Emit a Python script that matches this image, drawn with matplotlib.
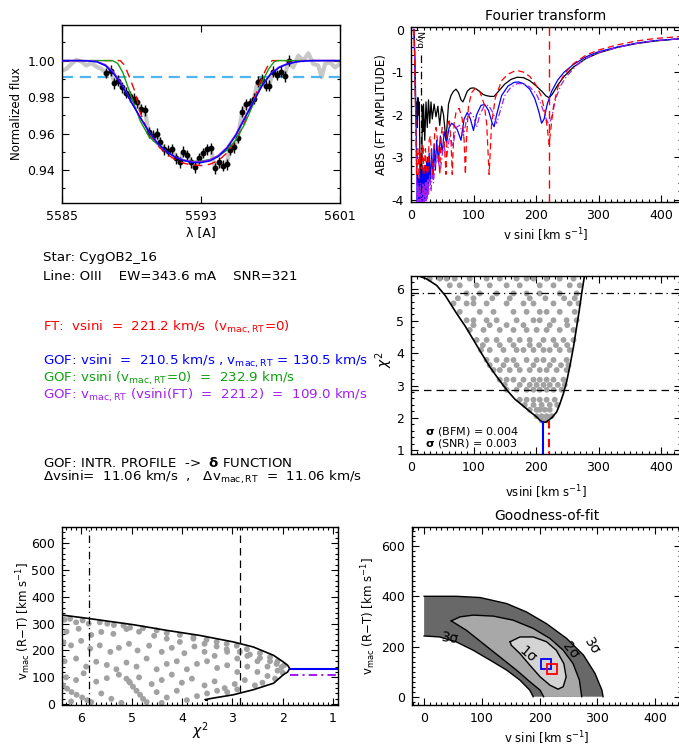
import numpy as np
import matplotlib
matplotlib.use('Agg')
import matplotlib.pyplot as plt
from matplotlib.ticker import MultipleLocator, FixedLocator, FormatStrFormatter

plt.rcParams['font.family'] = ['DejaVu Sans']
plt.rcParams['mathtext.fontset'] = 'dejavusans'
plt.rcParams['axes.unicode_minus'] = False
plt.rcParams['axes.linewidth'] = 1.0

# --- colours ---
RED = '#ff0000'
BLUE = '#0000ff'
GREEN = '#10a010'
PURPLE = '#a020f0'
GREY_DOT = '#a2a2a2'

# --- top-left: line profile ---
pt_wave = [5587.55, 5587.80, 5588.02, 5588.25, 5588.46, 5588.67, 5588.90, 5589.13, 5589.34, 5589.55,
           5589.76, 5589.99, 5590.22, 5590.44, 5590.63, 5590.86, 5591.11, 5591.34, 5591.55, 5591.78,
           5591.97, 5592.22, 5592.45, 5592.68, 5592.91, 5593.13, 5593.36, 5593.57, 5593.80, 5594.03,
           5594.24, 5594.47, 5594.66, 5594.89, 5595.12, 5595.37, 5595.58, 5595.81, 5596.04, 5596.26,
           5596.49, 5596.72, 5596.93, 5597.14, 5597.35, 5597.60, 5597.81, 5598.04]
pt_flux = [0.9932, 0.9945, 0.9877, 0.9890, 0.9853, 0.9823, 0.9804, 0.9790, 0.9771, 0.9735,
           0.9729, 0.9607, 0.9589, 0.9600, 0.9552, 0.9515, 0.9506, 0.9515, 0.9464, 0.9442,
           0.9501, 0.9482, 0.9442, 0.9415, 0.9464, 0.9494, 0.9515, 0.9519, 0.9411, 0.9442,
           0.9424, 0.9433, 0.9512, 0.9525, 0.9576, 0.9720, 0.9762, 0.9766, 0.9790, 0.9885,
           0.9896, 0.9863, 0.9863, 0.9940, 0.9921, 0.9940, 0.9914, 0.9998]
flux_err = 0.003

cont_left_wave = [5585.0, 5585.25, 5585.54, 5585.83, 5586.11, 5586.40, 5586.69, 5586.98, 5587.27]
cont_left_flux = [0.9945, 0.9954, 0.9982, 1.0004, 0.9995, 0.9973, 0.9987, 0.9967, 0.9954]
cont_right_wave = [5598.31, 5598.60, 5598.89, 5599.18, 5599.46, 5599.75, 5599.94, 5600.14, 5600.42, 5600.71, 5601.0]
cont_right_flux = [0.9963, 1.0027, 1.0000, 1.0040, 0.9982, 0.9973, 0.9909, 0.9982, 0.9991, 0.9963, 0.9982]

snr_level = 0.991

blue_wave = [5585.0, 5586.0, 5586.5, 5587.0, 5587.5, 5588.0, 5588.5, 5589.0, 5589.5, 5590.0, 5590.5,
             5591.0, 5591.5, 5592.0, 5592.5, 5593.0, 5593.5, 5594.0, 5594.5, 5595.0, 5595.5, 5596.0,
             5596.5, 5597.0, 5597.5, 5598.0, 5598.5, 5599.0, 5599.5, 5601.0]
blue_flux = [1.0, 1.0, 0.9998, 0.9993, 0.9972, 0.9925, 0.9855, 0.9770, 0.9690, 0.9612, 0.9548,
             0.9503, 0.9472, 0.9452, 0.9442, 0.9441, 0.9450, 0.9475, 0.9520, 0.9590, 0.9680, 0.9770,
             0.9860, 0.9925, 0.9962, 0.9982, 0.9993, 0.9998, 1.0, 1.0]
purple_flux = [1.0, 1.0, 0.9999, 0.9995, 0.9977, 0.9932, 0.9860, 0.9772, 0.9688, 0.9608, 0.9545,
               0.9502, 0.9473, 0.9455, 0.9446, 0.9446, 0.9455, 0.9480, 0.9525, 0.9595, 0.9685, 0.9775,
               0.9862, 0.9927, 0.9965, 0.9984, 0.9994, 0.9999, 1.0, 1.0]
green_wave = [5585.0, 5587.9, 5588.2, 5588.5, 5589.0, 5589.5, 5590.0, 5590.5, 5591.0, 5591.5, 5592.0,
              5592.5, 5593.0, 5593.5, 5594.0, 5594.5, 5595.0, 5595.5, 5596.0, 5596.5, 5596.9, 5597.2,
              5597.4, 5601.0]
green_flux = [1.0, 1.0, 0.9985, 0.9935, 0.9800, 0.9670, 0.9585, 0.9540, 0.9503, 0.9472, 0.9455,
              0.9448, 0.9449, 0.9458, 0.9476, 0.9510, 0.9565, 0.9650, 0.9760, 0.9880, 0.9955, 0.9993,
              1.0, 1.0]
red_wave = [5585.0, 5588.35, 5588.6, 5588.9, 5589.2, 5589.5, 5590.0, 5590.5, 5591.0, 5591.5, 5592.0,
            5592.5, 5593.0, 5593.5, 5594.0, 5594.5, 5595.0, 5595.5, 5596.0, 5596.4, 5596.7, 5596.95,
            5597.1, 5601.0]
red_flux = [1.0, 1.0, 0.9975, 0.9905, 0.9830, 0.9715, 0.9600, 0.9535, 0.9490, 0.9458, 0.9438,
            0.9428, 0.9425, 0.9432, 0.9452, 0.9495, 0.9565, 0.9660, 0.9775, 0.9880, 0.9945, 0.9990,
            1.0, 1.0]

# --- top-right: Fourier transforms (log10 amplitude) ---
ft_black_v = [5, 6, 7, 8, 9, 10, 11, 12, 13, 14, 15, 16, 17, 18, 19, 20, 22, 24, 26, 28, 30, 32, 34, 37,
              40, 43, 46, 49, 52, 56, 60, 64, 68, 72, 76, 80, 83, 86, 90, 95, 100, 105, 110, 115, 120,
              127, 133, 140, 150, 160, 170, 180, 190, 200, 210, 216, 221, 226, 235, 245, 260, 280, 300,
              330, 360, 390, 435]
ft_black = [0, -0.8, -1.6, -2.2, -1.7, -2.3, -1.6, -2.0, -1.7, -2.6, -4.1, -3.0, -4.1, -1.8, -2.4, -1.75,
            -2.6, -1.7, -2.3, -1.65, -2.2, -1.7, -2.1, -1.75, -2.05, -1.8, -2.25, -1.8, -2.0, -2.6,
            -1.75, -1.55, -1.45, -1.40, -1.48, -1.65, -1.70, -1.6, -1.45, -1.38, -1.37, -1.40, -1.46,
            -1.52, -1.55, -1.57, -1.57, -1.45, -1.28, -1.17, -1.12, -1.13, -1.20, -1.32, -1.46, -1.56,
            -1.60, -1.52, -1.30, -1.10, -0.88, -0.68, -0.55, -0.42, -0.33, -0.27, -0.21]
ft_red_v = [5, 7, 9, 11, 13, 15, 17, 19, 21, 23, 25, 27, 29, 31, 33, 35, 38, 40, 43, 46, 48, 50, 53, 56,
            58, 61, 64, 66, 69, 72, 77, 82, 85, 87, 89, 92, 97, 103, 110, 117, 121, 125, 129, 135, 145,
            155, 165, 172, 180, 190, 200, 208, 214, 218, 221, 224, 228, 235, 245, 260, 280, 300, 330,
            360, 390, 435]
ft_red = [0, -1.6, -3.4, -2.8, -3.5, -2.9, -3.4, -2.7, -3.4, -2.8, -3.3, -3.4, -2.6, -2.5, -3.0, -3.4,
          -2.4, -2.3, -2.7, -3.4, -2.5, -2.3, -2.6, -3.4, -2.3, -2.1, -2.6, -3.4, -2.2, -1.95, -1.85,
          -2.1, -2.6, -3.4, -2.5, -1.8, -1.48, -1.38, -1.45, -1.75, -2.2, -3.4, -2.2, -1.6, -1.2,
          -1.05, -0.98, -0.97, -1.0, -1.1, -1.3, -1.55, -1.9, -2.3, -2.7, -2.3, -1.8, -1.35, -1.05,
          -0.80, -0.60, -0.48, -0.36, -0.27, -0.21, -0.16]
ft_blue_v = [5, 7, 9, 10, 11, 12, 13, 14, 15, 16, 17, 18, 19, 20, 21, 22, 23, 24, 25, 26, 27, 28, 29, 31,
             33, 35, 37, 39, 41, 44, 47, 50, 53, 57, 61, 65, 69, 74, 80, 85, 90, 95, 100, 105, 112, 118,
             124, 130, 133, 137, 145, 155, 165, 172, 180, 190, 198, 204, 209, 213, 218, 225, 235, 245,
             260, 280, 300, 330, 360, 390, 435]
ft_blue = [0, -1.2, -3.0, -4.1, -3.4, -4.1, -3.5, -4.1, -3.3, -4.1, -3.4, -4.1, -3.2, -4.1, -3.3, -4.0,
           -3.2, -3.9, -3.1, -3.8, -3.0, -3.7, -2.9, -3.6, -2.8, -3.5, -2.7, -3.3, -2.6, -3.1, -2.5,
           -2.9, -2.4, -2.65, -2.3, -2.2, -2.25, -2.35, -2.6, -2.1, -1.95, -2.1, -2.37, -2.0, -1.78,
           -1.76, -1.9, -2.2, -2.28, -2.0, -1.55, -1.33, -1.24, -1.23, -1.27, -1.40, -1.62, -1.9, -2.2,
           -2.1, -1.75, -1.45, -1.18, -1.0, -0.82, -0.64, -0.52, -0.41, -0.32, -0.26, -0.21]
ft_purple_v = [5, 7, 9, 10, 11, 12, 13, 14, 15, 16, 17, 18, 19, 20, 21, 22, 23, 24, 25, 26, 27, 28, 30,
               32, 34, 36, 38, 42, 47, 52, 57, 62, 67, 72, 78, 84, 89, 95, 100, 105, 110, 117, 124, 131,
               137, 142, 150, 160, 170, 180, 190, 200, 208, 215, 221, 226, 232, 240, 250, 265, 280, 300,
               330, 360, 390, 435]
ft_purple = [0, -1.5, -3.6, -4.1, -3.6, -4.1, -3.7, -4.1, -3.6, -4.1, -3.7, -4.1, -3.6, -4.1, -3.7, -4.1,
             -3.6, -4.1, -3.6, -4.0, -3.5, -3.9, -3.4, -3.8, -3.3, -3.6, -3.2, -3.0, -3.3, -2.7, -3.0,
             -2.5, -2.75, -2.3, -2.25, -2.5, -2.1, -1.95, -2.05, -2.3, -2.0, -1.8, -1.78, -1.95, -2.2,
             -1.95, -1.55, -1.35, -1.27, -1.27, -1.35, -1.5, -1.75, -2.05, -2.25, -2.0, -1.6, -1.3,
             -1.08, -0.84, -0.68, -0.54, -0.42, -0.33, -0.26, -0.21]
vsini_ft = 221.2
v_nyquist = 16

# --- chi2 results ---
vsini_gof = 210.5
vmac_gof = 130.5
vmac_fixed = 109.0
chi2_min = 1.86
chi2_lev1 = 2.85
chi2_lev3 = 5.85

chi_curve_v = [14, 25, 41, 55, 73, 87, 100, 113, 126, 140, 153, 166, 180, 191, 201, 206, 211, 216, 220,
               226, 233, 238, 244, 249, 254, 260, 265, 269, 273, 278]
chi_curve = [6.38, 6.30, 6.10, 5.78, 5.23, 4.83, 4.41, 3.99, 3.58, 3.20, 2.87, 2.58, 2.36, 2.18, 2.03,
             1.93, 1.86, 1.87, 1.92, 2.02, 2.18, 2.42, 2.76, 3.12, 3.58, 4.20, 4.81, 5.30, 5.84, 6.45]

dot_v = [30, 46, 57, 70, 94, 121, 142, 169, 185, 196, 217, 238, 260,
         62, 78, 105, 126, 153, 174, 206, 228, 254, 270,
         89, 110, 137, 164, 185, 206, 238, 265,
         75, 100, 130, 158, 190, 215, 245, 262,
         68, 89, 100, 121, 153, 180, 196, 228, 254, 268,
         78, 110, 132, 164, 185, 206, 217, 238, 262,
         89, 100, 121, 137, 169, 196, 206, 228, 249, 265,
         100, 126, 153, 180, 222, 250,
         94, 116, 142, 164, 185, 201, 217, 238, 260,
         105, 121, 137, 158, 174, 190, 212, 228, 244, 260,
         115, 142, 164, 190, 205, 232, 250,
         112, 126, 148, 169, 180, 196, 212, 222, 238, 254,
         121, 137, 153, 164, 185, 201, 212, 228, 249,
         126, 148, 169, 196, 222, 240, 252,
         132, 142, 158, 174, 190, 206, 217, 233, 249,
         142, 153, 164, 180, 196, 206, 217, 228, 244,
         150, 174, 190, 201, 212, 222, 235, 246,
         153, 169, 185, 196, 206, 217, 228, 241,
         174, 185, 196, 206, 217, 230,
         182, 196, 209, 222, 234,
         190, 201, 206, 214, 222,
         201, 209, 217, 225,
         209, 217]
dot_chi = [6.31] * 13 + [6.10] * 10 + [5.85] * 8 + [5.70] * 8 + [5.54] * 10 + [5.28] * 9 + \
          [5.02] * 10 + [4.87] * 6 + [4.72] * 9 + [4.41] * 10 + [4.25] * 7 + [4.10] * 10 + \
          [3.79] * 9 + [3.63] * 7 + [3.48] * 9 + [3.18] * 9 + [3.02] * 8 + [2.87] * 8 + \
          [2.56] * 6 + [2.40] * 5 + [2.25] * 5 + [2.05] * 4 + [1.92] * 2

# --- bottom-left: vmac vs chi2 ---
env_chi = [6.38, 5.88, 4.96, 4.30, 3.64, 2.98, 2.58, 2.18, 1.99, 1.90, 1.86, 1.90, 1.99, 2.18, 2.58,
           2.98, 3.37, 3.54, 3.50]
env_vmac = [332, 320, 296, 275, 256, 232, 213, 182, 158, 145, 133, 120, 109, 78, 54, 35, 23, 17, 14]

bl_chi = [6.33, 6.22, 6.10, 5.97, 5.85, 5.63, 5.48, 5.35, 5.16, 5.03, 4.77, 4.50, 4.30, 4.04, 3.77,
          3.51, 3.31, 3.11, 2.91, 2.71, 2.45, 2.25, 2.10, 1.97,
          6.29, 6.05, 5.80, 5.60, 5.36, 5.10, 4.85, 4.55, 4.30, 4.04, 3.77, 3.55, 3.31, 3.11, 2.85,
          2.65, 2.45, 2.25, 2.12, 2.02,
          6.35, 6.20, 6.00, 5.82, 5.63, 5.42, 5.25, 5.05, 4.88, 4.65, 4.40, 4.20, 3.95, 3.75, 3.55,
          3.35, 3.10, 2.90, 2.70, 2.50, 2.30, 2.10, 2.00,
          6.33, 6.10, 5.90, 5.70, 5.49, 5.30, 5.10, 4.90, 4.70, 4.50, 4.30, 4.10, 3.90, 3.70, 3.50,
          3.30, 3.10, 2.90, 2.70, 2.50, 2.30, 2.15,
          6.30, 6.10, 5.95, 5.70, 5.49, 5.25, 5.05, 4.85, 4.60, 4.40, 4.20, 4.00, 3.80, 3.55, 3.35,
          3.15, 2.95, 2.75, 2.55, 2.40,
          6.36, 6.28, 6.19, 6.09, 5.98, 5.88, 5.80,
          5.10, 5.03, 4.97, 4.90, 4.83, 4.77, 4.70,
          5.60, 5.40, 4.50, 4.30, 4.10, 3.90, 3.70, 3.50, 3.30, 3.10, 2.90, 6.20, 5.20, 4.40]
bl_vmac = [315, 318, 305, 312, 300, 305, 300, 295, 293, 285, 283, 275, 265, 258, 250,
           240, 232, 225, 218, 205, 190, 175, 160, 145,
           270, 281, 258, 269, 262, 280, 270, 255, 244, 232, 244, 225, 215, 205, 195,
           185, 172, 160, 150, 138,
           230, 219, 236, 207, 219, 195, 210, 225, 200, 218, 195, 210, 190, 215, 195,
           180, 195, 170, 180, 160, 140, 125, 118,
           160, 170, 140, 158, 146, 130, 155, 140, 170, 130, 150, 160, 130, 150, 160,
           135, 145, 120, 140, 120, 105, 95,
           100, 90, 115, 84, 97, 110, 85, 100, 75, 90, 110, 80, 95, 70, 85,
           60, 75, 90, 70, 80,
           70, 58, 45, 35, 25, 15, 8,
           95, 80, 65, 50, 35, 20, 8,
           40, 20, 45, 25, 50, 15, 30, 40, 50, 45, 55, 10, 5, 5]

# --- bottom-right: confidence regions ---
c3_outer_v = [0, 56, 97, 143, 177, 212, 247, 276, 296, 308, 310]
c3_outer_m = [400, 400, 395, 371, 338, 291, 232, 166, 93, 26, 0]
c3_inner_v = [189, 183, 166, 143, 114, 85, 56, 27, 0]
c3_inner_m = [0, 26, 66, 106, 146, 185, 218, 238, 242]
c2_outer_v = [47, 62, 85, 120, 154, 189, 218, 241, 258, 269, 273]
c2_outer_m = [302, 318, 325, 321, 305, 272, 232, 185, 132, 66, 0]
c2_inner_v = [207, 201, 183, 160, 131, 102, 73, 47]
c2_inner_m = [0, 26, 60, 106, 159, 212, 265, 302]
c1_v = [149, 166, 189, 212, 229, 242, 246, 241, 232, 218, 201, 183, 166, 151, 149]
c1_m = [219, 238, 238, 219, 185, 132, 79, 40, 30, 46, 79, 126, 172, 205, 219]

# ---------------------------------------------------------------------------
fig = plt.figure(figsize=(6.79, 7.49), dpi=100)
W, H = 679.0, 749.0


def add_axes(x0, x1, y0, y1):
    return fig.add_axes([x0 / W, 1 - y1 / H, (x1 - x0) / W, (y1 - y0) / H])


def idl_style(ax):
    ax.tick_params(which='both', direction='in', top=True, right=True, labelsize=9, width=0.8)
    ax.tick_params(which='major', length=5, pad=5)
    ax.tick_params(which='minor', length=2.5)


DASH = (0, (6, 4))
DASHDOT = (0, (6, 3, 1, 3))

# top-left
ax1 = add_axes(62, 340, 25, 203)
grey_wave = cont_left_wave + pt_wave + cont_right_wave
grey_flux = cont_left_flux + pt_flux + cont_right_flux
ax1.plot(grey_wave, grey_flux, color='#c8c8c8', lw=3, zorder=1)
ax1.axhline(snr_level, color='#4fb5f0', lw=1.6, ls=(0, (5, 3)), zorder=2)
ax1.errorbar(pt_wave, pt_flux, yerr=flux_err, fmt='o', color='k', ms=3.2, elinewidth=1.0,
             capsize=0, zorder=3)
ax1.plot(red_wave, red_flux, color=RED, lw=1.0, ls=DASH, zorder=4)
ax1.plot(green_wave, green_flux, color=GREEN, lw=1.0, zorder=5)
ax1.plot(blue_wave, purple_flux, color=PURPLE, lw=1.2, zorder=6)
ax1.plot(blue_wave, blue_flux, color=BLUE, lw=1.0, zorder=7)
ax1.set_xlim(5585, 5601)
ax1.set_ylim(0.922, 1.0195)
idl_style(ax1)
ax1.xaxis.set_major_locator(FixedLocator([5585, 5593, 5601]))
ax1.yaxis.set_major_locator(MultipleLocator(0.02))
ax1.yaxis.set_minor_locator(MultipleLocator(0.01))
ax1.yaxis.set_major_formatter(FormatStrFormatter('%.2f'))
ax1.set_ylabel('Normalized flux', fontsize=8.5)
ax1.set_xlabel('λ [A]', fontsize=9)
ax1.yaxis.set_label_coords(-0.14, 0.5)
ax1.xaxis.set_label_coords(0.5, -0.13)

# top-right
ax2 = add_axes(411, 681, 27, 202)
ax2.plot(ft_black_v, ft_black, color='k', lw=0.9, zorder=2)
ax2.plot(ft_blue_v, ft_blue, color=BLUE, lw=0.9, zorder=3)
ax2.plot(ft_purple_v, ft_purple, color=PURPLE, lw=0.9, ls=(0, (5, 2, 1, 2)), zorder=4)
ax2.plot(ft_red_v, ft_red, color=RED, lw=0.9, ls=(0, (5, 3)), zorder=5)
ax2.axvline(vsini_ft, color=RED, lw=1.0, ls=(0, (6, 4)), zorder=6)
ax2.plot([v_nyquist, v_nyquist], [-0.6, -4.1], color='k', lw=0.9, ls=DASHDOT, zorder=6)
ax2.text(v_nyquist - 3.5, -0.03, 'Nyq.', rotation=270, fontsize=6.5, ha='center', va='top')
ax2.set_xlim(0, 432)
ax2.set_ylim(-4.05, 0.06)
idl_style(ax2)
ax2.xaxis.set_major_locator(MultipleLocator(100))
ax2.xaxis.set_minor_locator(MultipleLocator(10))
ax2.yaxis.set_major_locator(MultipleLocator(1))
ax2.yaxis.set_minor_locator(MultipleLocator(0.2))
ax2.set_title('Fourier transform', fontsize=10, pad=5)
ax2.set_ylabel('ABS (FT AMPLITUDE)', fontsize=8.5)
ax2.set_xlabel('v sini [km s$^{-1}$]', fontsize=8.5)
ax2.yaxis.set_label_coords(-0.085, 0.5)
ax2.xaxis.set_label_coords(0.5, -0.137)

# middle-right
ax3 = add_axes(411, 681, 276, 454)
ax3.scatter(dot_v, dot_chi, s=18, color=GREY_DOT, edgecolors='none', zorder=2)
ax3.plot(chi_curve_v, chi_curve, color='k', lw=1.2, zorder=3)
ax3.axhline(chi2_lev3, color='k', lw=0.9, ls=DASHDOT, zorder=4)
ax3.axhline(chi2_lev1, color='k', lw=0.9, ls=DASH, zorder=4)
ax3.plot([vsini_gof, vsini_gof], [0.5, chi2_min], color=BLUE, lw=1.5, zorder=5)
ax3.plot([vsini_ft, vsini_ft], [0.5, chi2_min + 0.03], color=RED, lw=1.5, ls=(0, (4, 2, 1, 2)), zorder=5)
ax3.text(22, 1.58, r'$\mathbf{\sigma}$ (BFM) = 0.004', fontsize=8, va='center')
ax3.text(22, 1.21, r'$\mathbf{\sigma}$ (SNR) = 0.003', fontsize=8, va='center')
ax3.set_xlim(0, 432)
ax3.set_ylim(0.88, 6.39)
idl_style(ax3)
ax3.xaxis.set_major_locator(MultipleLocator(100))
ax3.xaxis.set_minor_locator(MultipleLocator(10))
ax3.yaxis.set_major_locator(MultipleLocator(1))
ax3.yaxis.set_minor_locator(MultipleLocator(0.2))
ax3.set_ylabel(r'$\chi^2$', fontsize=10)
ax3.set_xlabel('vsini [km s$^{-1}$]', fontsize=8.5)
ax3.yaxis.set_label_coords(-0.06, 0.53)
ax3.xaxis.set_label_coords(0.5, -0.165)

# bottom-left
ax4 = add_axes(62, 338, 527, 705)
ax4.scatter(bl_chi, bl_vmac, s=18, color=GREY_DOT, edgecolors='none', zorder=2)
ax4.plot(env_chi, env_vmac, color='k', lw=1.2, zorder=3)
ax4.axvline(chi2_lev3, color='k', lw=0.9, ls=DASHDOT, zorder=4)
ax4.axvline(chi2_lev1, color='k', lw=0.9, ls=DASH, zorder=4)
ax4.plot([chi2_min, 0.5], [vmac_gof, vmac_gof], color=BLUE, lw=1.5, zorder=5)
ax4.plot([chi2_min, 0.5], [vmac_fixed, vmac_fixed], color=PURPLE, lw=1.5, ls=(0, (4, 2, 1, 2)), zorder=5)
ax4.set_xlim(6.38, 0.9)
ax4.set_ylim(-3, 660)
idl_style(ax4)
ax4.xaxis.set_major_locator(MultipleLocator(1))
ax4.xaxis.set_minor_locator(MultipleLocator(0.1))
ax4.yaxis.set_major_locator(MultipleLocator(100))
ax4.yaxis.set_minor_locator(MultipleLocator(20))
ax4.set_ylabel(r'v$_{\mathrm{mac}}$ (R$-$T) [km s$^{-1}$]', fontsize=8.5)
ax4.set_xlabel(r'$\chi^2$', fontsize=10)
ax4.yaxis.set_label_coords(-0.105, 0.47)
ax4.xaxis.set_label_coords(0.5, -0.085)

# bottom-right
ax5 = add_axes(412, 681, 527, 705)
ax5.fill(c3_outer_v + c3_inner_v, c3_outer_m + c3_inner_m, color='#686868', lw=0, zorder=1)
ax5.fill(c2_outer_v + c2_inner_v, c2_outer_m + c2_inner_m, color='#a8a8a8', lw=0, zorder=2)
ax5.fill(c1_v, c1_m, color='#d4d4d4', lw=0, zorder=3)
ax5.plot(c3_outer_v, c3_outer_m, color='k', lw=1.0, zorder=4)
ax5.plot(c3_inner_v, c3_inner_m, color='k', lw=1.0, zorder=4)
ax5.plot(c2_outer_v, c2_outer_m, color='k', lw=1.0, zorder=4)
ax5.plot(c2_inner_v, c2_inner_m, color='k', lw=1.0, zorder=4)
ax5.plot(c1_v, c1_m, color='k', lw=1.0, zorder=4)
ax5.text(45, 232, '3σ', fontsize=10, rotation=-8, ha='center', va='center', zorder=5)
ax5.text(180, 166, '1σ', fontsize=10, rotation=-40, ha='center', va='center', zorder=5)
ax5.text(253, 183, '2σ', fontsize=10, rotation=-52, ha='center', va='center', zorder=5)
ax5.text(290, 200, '3σ', fontsize=10, rotation=-58, ha='center', va='center', zorder=5)
ax5.plot([vsini_gof], [vmac_gof], marker='s', ms=7, mfc='none', mec=BLUE, mew=1.3, zorder=6)
ax5.plot([vsini_ft], [vmac_fixed], marker='s', ms=7, mfc='none', mec=RED, mew=1.3, zorder=6)
ax5.set_xlim(-21, 445)
ax5.set_ylim(-33, 676)
idl_style(ax5)
ax5.xaxis.set_major_locator(MultipleLocator(100))
ax5.xaxis.set_minor_locator(MultipleLocator(10))
ax5.yaxis.set_major_locator(MultipleLocator(200))
ax5.yaxis.set_minor_locator(MultipleLocator(20))
ax5.set_title('Goodness-of-fit', fontsize=10, pad=5)
ax5.set_ylabel(r'v$_{\mathrm{mac}}$ (R$-$T) [km s$^{-1}$]', fontsize=8.5)
ax5.set_xlabel('v sini [km s$^{-1}$]', fontsize=8.5)
ax5.yaxis.set_label_coords(-0.126, 0.5)
ax5.xaxis.set_label_coords(0.5, -0.135)

# text block
sub = r'$_{\mathrm{mac,RT}}$'
tx = 43 / W
fs = 9.6
fig.text(tx, 1 - 258 / H, 'Star: CygOB2_16', fontsize=fs, va='center')
fig.text(tx, 1 - 276 / H, 'Line: OIII    EW=343.6 mA    SNR=321', fontsize=fs, va='center')
fig.text(tx, 1 - 327.7 / H, 'FT:  vsini  =  221.2 km/s  (v' + sub + '=0)', fontsize=fs, va='center',
         color=RED)
fig.text(tx, 1 - 361.7 / H, 'GOF: vsini  =  210.5 km/s , v' + sub + ' = 130.5 km/s', fontsize=fs,
         va='center', color=BLUE)
fig.text(tx, 1 - 378.3 / H, 'GOF: vsini (v' + sub + '=0)  =  232.9 km/s', fontsize=fs, va='center',
         color=GREEN)
fig.text(tx, 1 - 395 / H, 'GOF: v' + sub + ' (vsini(FT)  =  221.2)  =  109.0 km/s', fontsize=fs,
         va='center', color=PURPLE)
fig.text(tx, 1 - 462.7 / H, r'GOF: INTR. PROFILE  ->  $\mathbf{\delta}$ FUNCTION', fontsize=fs,
         va='center')
fig.text(tx, 1 - 477 / H, 'Δvsini=  11.06 km/s  ,   Δv' + sub + '  =  11.06 km/s', fontsize=fs,
         va='center')

fig.savefig('out.png', dpi=100)
